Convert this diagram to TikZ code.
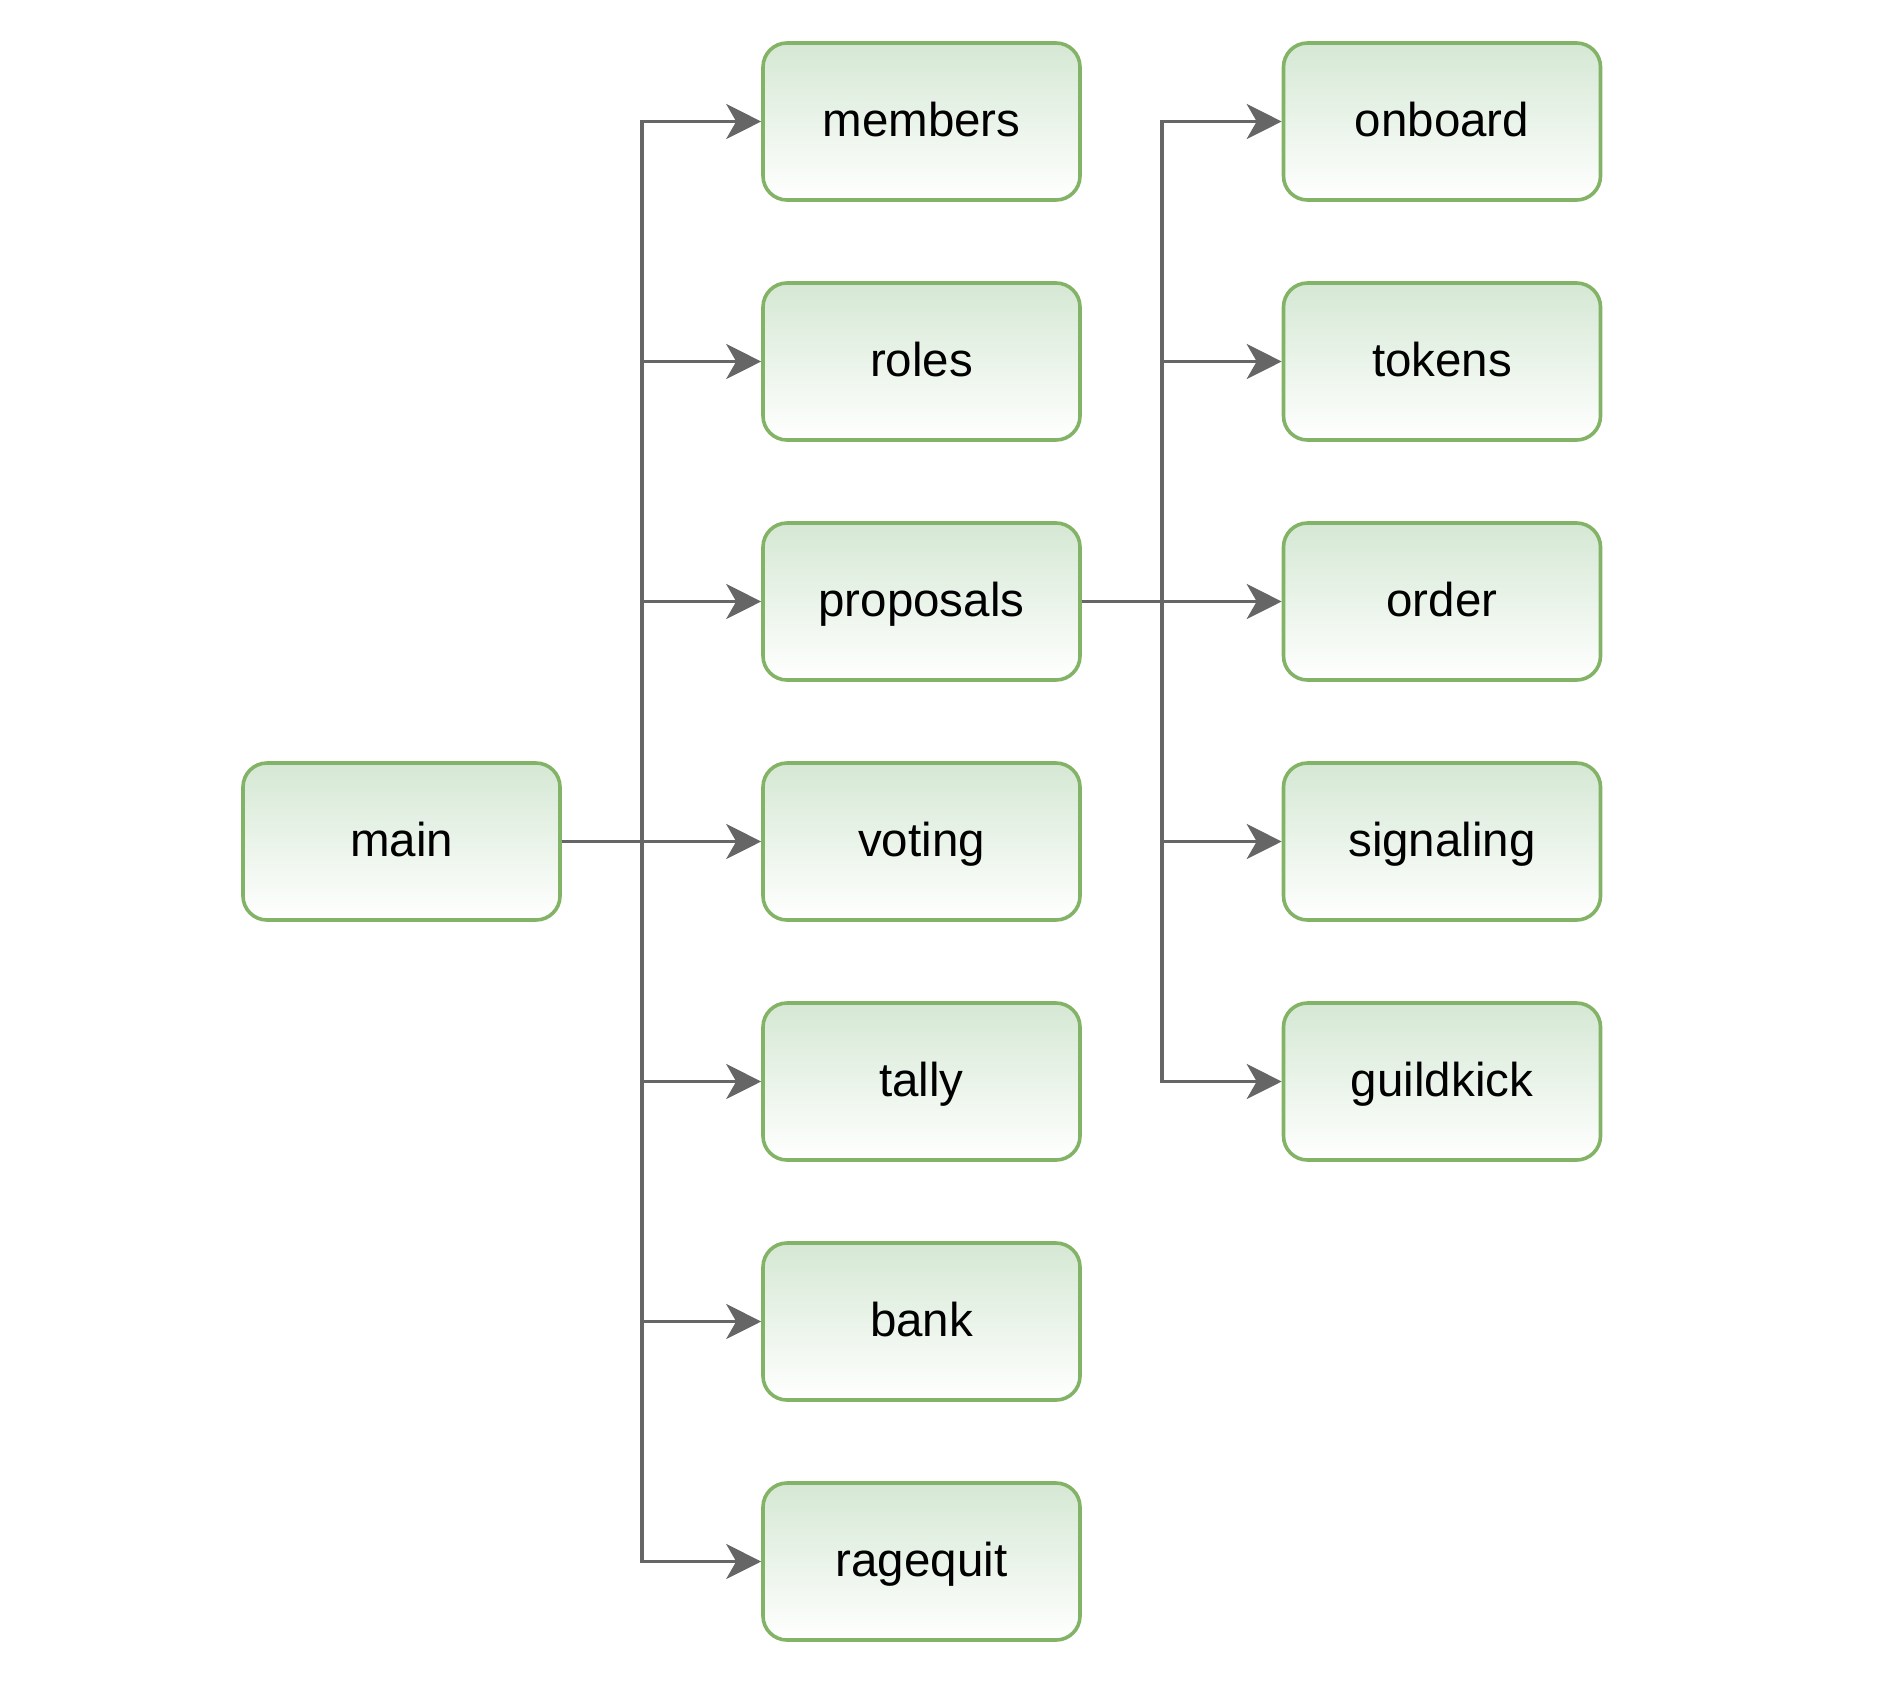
\documentclass[tikz,border=0pt]{standalone}
\usepackage{fontspec}
\setmainfont{Liberation Sans}
\usetikzlibrary{arrows.meta}
\definecolor{boxfill}{RGB}{213,232,212}
\definecolor{boxline}{RGB}{130,179,102}
\definecolor{wire}{RGB}{102,102,102}
\begin{document}
\begin{tikzpicture}[x=1pt,y=-1pt,
  module/.style={draw=boxline, line width=3.6pt, rounded corners=24pt,
    top color=boxfill, bottom color=white,
    minimum width=317pt, minimum height=157pt, inner sep=0pt,
    text height=40pt, text depth=10pt,
    font=\fontsize{47.5}{57}\selectfont},
  link/.style={draw=wire, line width=3.4pt,
    -{Stealth[length=35pt,width=35pt,inset=10pt]}}]
\useasboundingbox (0,0) rectangle (1884,1684);

% root
\node[module] (main) at (401.5,841.5) {main};

% first level
\node[module] (members)   at (921.5,121.5)  {members};
\node[module] (roles)     at (921.5,361.5)  {roles};
\node[module] (proposals) at (921.5,601.5)  {proposals};
\node[module] (voting)    at (921.5,841.5)  {voting};
\node[module] (tally)     at (921.5,1081.5) {tally};
\node[module] (bank)      at (921.5,1321.5) {bank};
\node[module] (ragequit)  at (921.5,1561.5) {ragequit};

% second level, under proposals
\node[module] (onboard)   at (1442,121.5)  {onboard};
\node[module] (tokens)    at (1442,361.5)  {tokens};
\node[module] (order)     at (1442,601.5)  {order};
\node[module] (signaling) at (1442,841.5)  {signaling};
\node[module] (guildkick) at (1442,1081.5) {guildkick};

% connectors
\foreach \t in {members,roles,proposals,voting,tally,bank,ragequit}
  \draw[link] (main.east) -- ++(80,0) |- (\t.west);
\foreach \t in {onboard,tokens,order,signaling,guildkick}
  \draw[link] (proposals.east) -- ++(80,0) |- (\t.west);
\end{tikzpicture}
\end{document}
